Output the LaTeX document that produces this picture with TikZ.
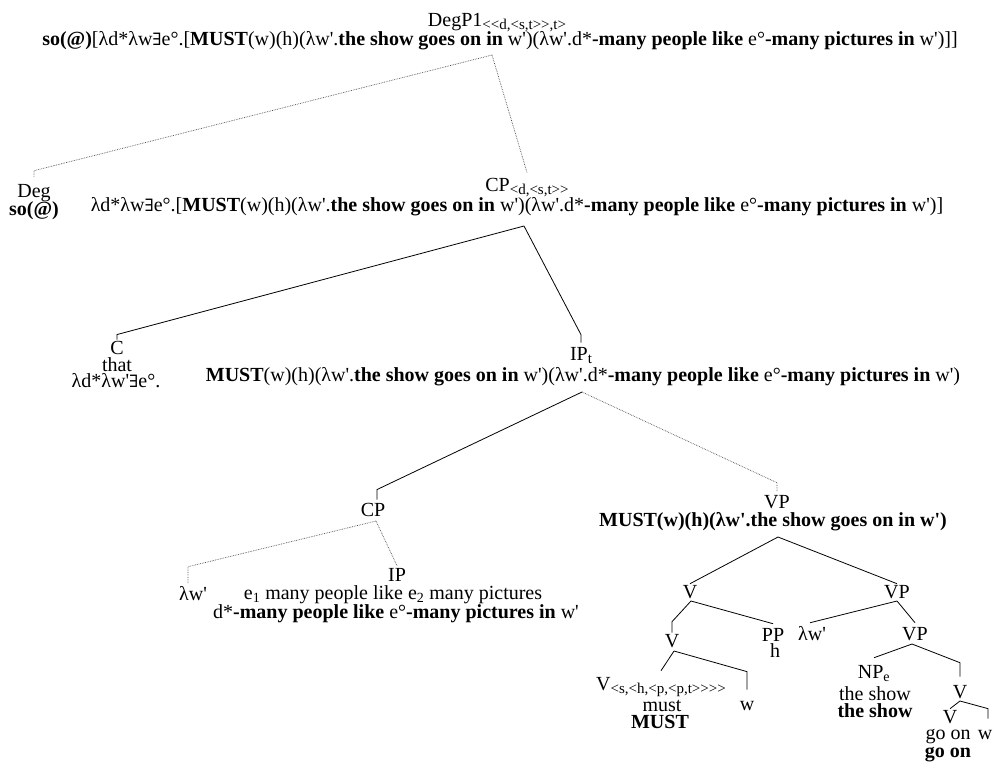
\documentclass[tikz,border=0pt]{standalone}
\usepackage{fontspec}
\setmainfont{Liberation Serif}[Ligatures=TeXOff]
\newfontfamily\exfont{DejaVu Serif}
\usetikzlibrary{positioning}

\newcommand{\exsym}{{\exfont\fontsize{17}{17}\selectfont ∃}}
\newcommand{\sbs}[1]{\raisebox{-3pt}{\fontsize{15}{15}\selectfont #1}}
\newcommand{\mustpart}{\textbf{MUST}(w)(h)(λw'.\textbf{the show goes on in} w')}
\newcommand{\manypart}{(λw'.d*\textbf{-many people like} e°\textbf{-many pictures in} w')}

\begin{document}
\begin{tikzpicture}[x=1pt,y=-1pt,
  every node/.style={inner sep=0pt,anchor=base,font=\fontsize{20}{20}\selectfont},
  dt/.style={densely dotted,line width=0.7pt,black!70},
  ln/.style={line width=0.8pt}]

\useasboundingbox (0,0) rectangle (998,763);

%top
\node (degp) at (497,26) {DegP1\sbs{<<d,<s,t>>,t>}};
\node (degf) at (500,45) {\textbf{so(@)}[λd*λw\exsym e°.[\mustpart\manypart]]};

%level 1
\node (deg) at (34,197) {Deg};
\node (degso) at (34,215) {\textbf{so(@)}};
\node (cp) at (527,191) {CP\sbs{<d,<s,t>>}};
\node (cpf) at (517,211) {λd*λw\exsym e°.[\mustpart\manypart]};

%level 2
\node (c) at (117,354) {C};
\node (that) at (117,371) {that};
\node (cl) at (116,387) {λd*λw'\exsym e°.};
\node (ipt) at (581,360) {IP\sbs{t}};
\node (iptf) at (583,381) {\mustpart\manypart};

%level 3
\node (cpp) at (373,516) {CP};
\node (lw) at (193,600) {λw'};
\node (ip) at (397,581) {IP};
\node (ipe) at (393,599) {e\textsubscript{1} many people like e\textsubscript{2} many pictures};
\node (ipd) at (396,618) {d*\textbf{-many people like} e°\textbf{-many pictures in} w'};
\node (vp) at (777,508) {VP};
\node (vpf) at (773,526) {\textbf{MUST(w)(h)(λw'.the show goes on in w')}};

%VP tree
\foreach \name/\x/\y/\txt in {v1/690/598/V, vpa/897/598/VP, v2/672/647/V, pp/773/641/PP,
    h/775/657/h, lwp/812/640/λw', vpb/915/640/VP, must/662/711/must,
    mustb/660/728/\textbf{MUST}, wa/747/710/w, thes/875/700/the show,
    thesb/875/717/\textbf{the show}, v3/960/698/V, v4/950/723/V,
    goon/948/739/go on, wb/985/739/w, goonb/948/757/\textbf{go on}}{
  \node (\name) at (\x,\y) {\txt};
}
\node (vsub) at (661,690) {V\sbs{<s,<h,<p,<p,t>>>>}};
\node (npe) at (874,678) {NP\textsubscript{e}};

\coordinate (degb) at (492,55);
\coordinate (cpb) at (524,226);
\coordinate (iptb) at (582,392);
\coordinate (cppb) at (376,521);
\coordinate (vpbr) at (778,537);
\coordinate (v1b) at (691,601);
\coordinate (vpab) at (897,601);
\coordinate (v2b) at (674,651);
\coordinate (vpbb) at (912,644);
\coordinate (v3b) at (960,701);

%edges
\draw[dt] (degb) -- ([yshift=13pt]deg.north) -- ([yshift=7pt]deg.north);
\draw[dt] (degb) -- ([yshift=5pt]cp.north);
\draw[ln] (cpb) -- ([yshift=6pt]c.north) -- ([yshift=1pt]c.north);
\draw[ln] (cpb) -- ([yshift=12pt]ipt.north) -- ([yshift=4pt]ipt.north);
\draw[ln] (iptb) -- ([xshift=4pt,yshift=13pt]cpp.north) -- ([xshift=4pt,yshift=3pt]cpp.north);
\draw[dt] (iptb) -- ([yshift=12pt]vp.north) -- ([yshift=3pt]vp.north);
\draw[dt] (cppb) -- ([xshift=-5pt,yshift=19pt]lw.north) -- ([xshift=-5pt,yshift=2pt]lw.north);
\draw[dt] (cppb) -- ([yshift=2pt]ip.north);

\draw[ln] (vpbr) -- ([yshift=1pt]v1.north);
\draw[ln] (vpbr) -- ([yshift=1pt]vpa.north);
\draw[ln] (v1b) -- ([yshift=12pt]v2.north) -- ([yshift=1pt]v2.north);
\draw[ln] (v1b) -- ([yshift=4pt]pp.north);
\draw[ln] (vpab) -- ([xshift=-2pt,yshift=3pt]lwp.north);
\draw[ln] (vpab) -- ([yshift=4pt]vpb.north);
\draw[ln] (v2b) -- ([yshift=6pt]vsub.north);
\draw[ln] (v2b) -- ([yshift=29pt]wa.north) -- ([yshift=11pt]wa.north);
\draw[ln] (vpbb) -- ([yshift=7pt]npe.north);
\draw[ln] (vpbb) -- ([yshift=22pt]v3.north) -- ([yshift=8pt]v3.north);
\draw[ln] (v3b) -- ([yshift=1pt]v4.north);
\draw[ln] (v3b) -- ([xshift=3pt,yshift=21pt]wb.north) -- ([xshift=3pt,yshift=11pt]wb.north);

\end{tikzpicture}
\end{document}
